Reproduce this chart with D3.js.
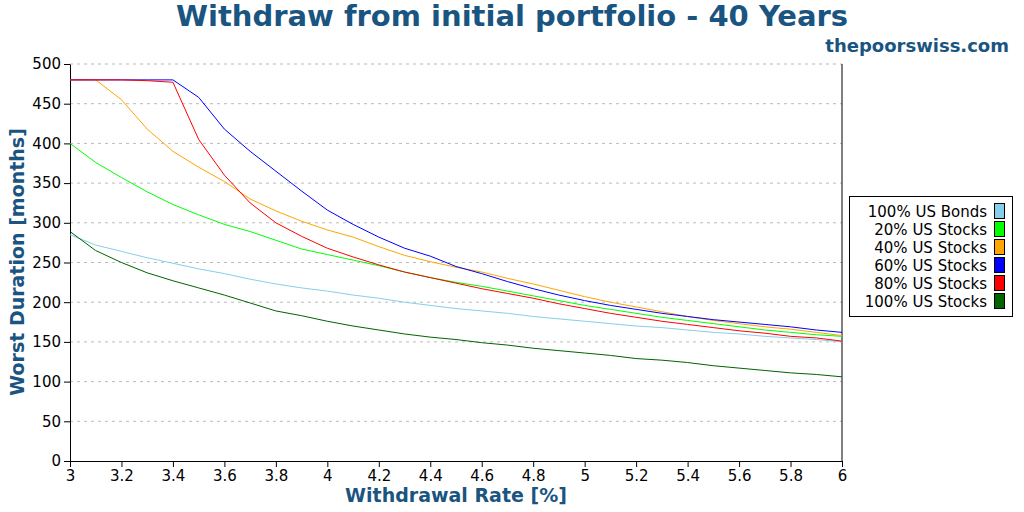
<!DOCTYPE html><html><head><meta charset="utf-8"><script src="https://d3js.org/d3.v7.min.js"></script>
<style>body{margin:0;background:#fff}svg{font-family:"DejaVu Sans",sans-serif}</style></head><body><svg width="1024" height="512"></svg>
<script>
const rates=d3.range(31).map(i=>+(3+i*0.1).toFixed(1));
const seriesNames=["100% US Bonds","20% US Stocks","40% US Stocks","60% US Stocks","80% US Stocks","100% US Stocks"];
const colors=["#87ceeb","#00ff00","#ffa500","#0000ff","#ff0000","#006400"];
const bonds=[285,272,264,256,249,242,236,229,223,218,214,209,205,200,196,192,189,186,182,179,176,173,170,168,165,162,160,157,155,153,150];
const s20=[400,376,357,339,323,310,298,289,278,267,260,253,246,238,231,225,220,214,208,202,196,191,186,181,177,173,169,165,162,159,157];
const s40=[480,480,455,418,390,370,352,330,315,302,291,282,270,259,251,244,238,230,223,215,207,200,194,188,182,177,173,169,166,162,158];
const s60=[480,480,480,480,480,458,418,390,365,340,316,298,282,268,258,245,236,226,217,209,202,196,191,186,182,178,175,172,169,165,162];
const s80=[480,480,480,479,477,405,360,325,300,283,268,257,247,238,231,224,217,211,205,198,192,186,181,176,172,168,164,161,157,155,151];
const s100=[289,265,250,237,227,218,209,199,189,183,176,170,165,160,156,153,149,146,142,139,136,133,129,127,124,120,117,114,111,109,106];
const allSeries=[bonds,s20,s40,s60,s80,s100];
const xTicks=d3.range(16).map(i=>+(3+i*0.2).toFixed(1));
const yTicks=d3.range(0,501,50);

const svg=d3.select("svg");
const x=d3.scaleLinear().domain([3,6]).range([70,842]);
const y=d3.scaleLinear().domain([0,500]).range([461,64]);
const blue="#1a5480";
svg.append("text").attr("x",512).attr("y",26).attr("text-anchor","middle").attr("font-size",29).attr("font-weight","bold").attr("fill",blue).text("Withdraw from initial portfolio - 40 Years");
svg.append("text").attr("x",1009).attr("y",52).attr("text-anchor","end").attr("font-size",18).attr("font-weight","bold").attr("fill",blue).text("thepoorswiss.com");
svg.append("g").selectAll("line").data(yTicks.slice(1)).join("line").attr("x1",70).attr("x2",842).attr("y1",d=>y(d)).attr("y2",d=>y(d)).attr("stroke","#bbb").attr("stroke-dasharray","3,4");
svg.append("line").attr("x1",842).attr("x2",842).attr("y1",64).attr("y2",461).attr("stroke","#000");
const xa=svg.append("g").attr("transform","translate(0,461)").call(d3.axisBottom(x).tickValues(xTicks).tickFormat(d3.format("~g")).tickSizeOuter(0));
const ya=svg.append("g").attr("transform","translate(70,0)").call(d3.axisLeft(y).tickValues(yTicks).tickSizeOuter(0));
[xa,ya].forEach(a=>{a.selectAll("text").attr("font-size",15).attr("font-family","DejaVu Sans").attr("fill","#000");a.selectAll("path,line").attr("stroke","#000");});
svg.append("text").attr("x",456).attr("y",502).attr("text-anchor","middle").attr("font-size",19).attr("font-weight","bold").attr("fill",blue).text("Withdrawal Rate [%]");
svg.append("text").attr("transform","translate(24,262) rotate(-90)").attr("text-anchor","middle").attr("font-size",19).attr("font-weight","bold").attr("fill",blue).text("Worst Duration [months]");
const line=d3.line().x((d,i)=>x(rates[i])).y(d=>y(d));
allSeries.forEach((s,k)=>svg.append("path").datum(s).attr("d",line).attr("fill","none").attr("stroke",colors[k]).attr("stroke-width",1));
const lg=svg.append("g");
lg.append("rect").attr("x",849.5).attr("y",196.5).attr("width",163).attr("height",120).attr("fill","#fff").attr("stroke","#000");
seriesNames.forEach((n,k)=>{const yy=211+k*18;
lg.append("text").attr("x",987).attr("y",yy+6).attr("text-anchor","end").attr("font-size",15).text(n);
lg.append("rect").attr("x",994.5).attr("y",yy-7.5).attr("width",10).attr("height",15).attr("fill",colors[k]).attr("stroke","#000");});
</script></body></html>
